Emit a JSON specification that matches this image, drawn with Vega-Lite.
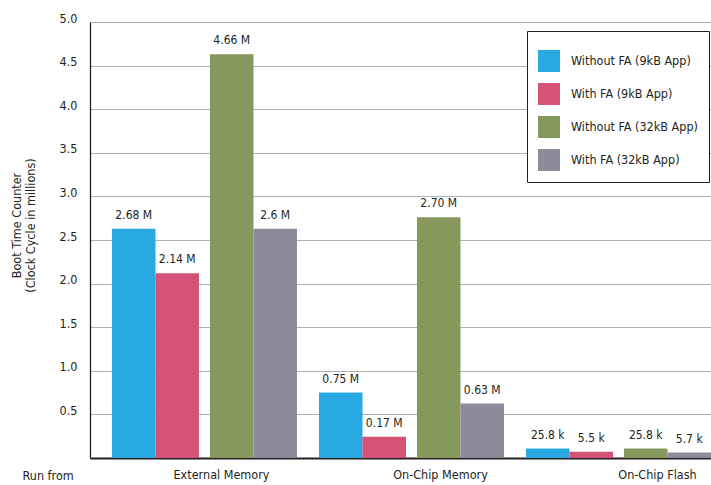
{
  "$schema": "https://vega.github.io/schema/vega-lite/v6.json",
  "width": 621,
  "height": 436,
  "autosize": {"type": "none"},
  "padding": {"left": 90, "top": 22, "right": 0, "bottom": 27},
  "background": "white",
  "config": {
    "view": {"stroke": null},
    "font": "DejaVu Sans Condensed, sans-serif",
    "text": {"font": "DejaVu Sans Condensed, sans-serif"}
  },
  "data": {
    "values": [
      {"group": "External Memory", "series": "Without FA (9kB App)", "app": "9kB", "value": 2.63, "label": "2.68 M"},
      {"group": "External Memory", "series": "With FA (9kB App)", "app": "9kB", "value": 2.12, "label": "2.14 M"},
      {"group": "External Memory", "series": "Without FA (32kB App)", "app": "32kB", "value": 4.63, "label": "4.66 M"},
      {"group": "External Memory", "series": "With FA (32kB App)", "app": "32kB", "value": 2.63, "label": "2.6 M"},
      {"group": "On-Chip Memory", "series": "Without FA (9kB App)", "app": "9kB", "value": 0.75, "label": "0.75 M"},
      {"group": "On-Chip Memory", "series": "With FA (9kB App)", "app": "9kB", "value": 0.245, "label": "0.17 M"},
      {"group": "On-Chip Memory", "series": "Without FA (32kB App)", "app": "32kB", "value": 2.76, "label": "2.70 M"},
      {"group": "On-Chip Memory", "series": "With FA (32kB App)", "app": "32kB", "value": 0.625, "label": "0.63 M"},
      {"group": "On-Chip Flash", "series": "Without FA (9kB App)", "app": "9kB", "value": 0.108, "label": "25.8 k"},
      {"group": "On-Chip Flash", "series": "With FA (9kB App)", "app": "9kB", "value": 0.072, "label": "5.5 k"},
      {"group": "On-Chip Flash", "series": "Without FA (32kB App)", "app": "32kB", "value": 0.108, "label": "25.8 k"},
      {"group": "On-Chip Flash", "series": "With FA (32kB App)", "app": "32kB", "value": 0.062, "label": "5.7 k"}
    ]
  },
  "encoding": {
    "x": {
      "field": "group",
      "type": "nominal",
      "sort": ["External Memory", "On-Chip Memory", "On-Chip Flash"],
      "scale": {"paddingInner": 0.1063, "paddingOuter": 0.0531, "align": 1},
      "axis": {
        "title": "Run from",
        "titleX": -68,
        "titleY": 11,
        "titleAlign": "left",
        "titleBaseline": "top",
        "titleFontSize": 12.5,
        "titleFontWeight": "normal",
        "titleColor": "#231f20",
        "labelAngle": 0,
        "labelFontSize": 12.5,
        "labelColor": "#231f20",
        "labelPadding": 10,
        "labelOffset": {"expr": "datum.label == 'External Memory' ? 17 : datum.label == 'On-Chip Memory' ? 29 : 39"},
        "ticks": false,
        "domainColor": "#231f20",
        "domainWidth": 2,
        "grid": false
      }
    },
    "y": {
      "field": "value",
      "type": "quantitative",
      "scale": {"domain": [0, 5], "nice": false},
      "axis": {
        "title": ["Boot Time Counter", "(Clock Cycle in millions)"],
        "titleX": -74,
        "titleY": 203,
        "titleAngle": -90,
        "titleAlign": "center",
        "titleBaseline": "middle",
        "titleLineHeight": 14,
        "titleFontSize": 12.5,
        "titleFontWeight": "normal",
        "titleColor": "#231f20",
        "values": [0.5, 1, 1.5, 2, 2.5, 3, 3.5, 4, 4.5, 5],
        "format": ".1f",
        "labelFontSize": 12.5,
        "labelColor": "#231f20",
        "labelBaseline": "alphabetic",
        "labelPadding": 13,
        "ticks": false,
        "domainColor": "#231f20",
        "domainWidth": 1.3,
        "gridColor": "#b0b0b0",
        "gridWidth": 1,
        "gridOpacity": 1
      }
    }
  },
  "layer": [
    {
      "transform": [{"filter": "datum.app === '9kB'"}],
      "mark": {"type": "bar", "opacity": 1},
      "encoding": {
        "xOffset": {
          "field": "series",
          "type": "nominal",
          "scale": {"type": "band", "domain": ["Without FA (9kB App)", "With FA (9kB App)", "spacer"], "paddingInner": 0, "paddingOuter": 0.626, "align": 0}
        },
        "color": {
          "field": "series",
          "type": "nominal",
          "scale": {
            "domain": ["Without FA (9kB App)", "With FA (9kB App)", "Without FA (32kB App)", "With FA (32kB App)"],
            "range": ["#29a9e1", "#d55377", "#85995d", "#8f8a9a"]
          },
          "legend": {
            "orient": "none",
            "legendX": 437,
            "legendY": 9,
            "title": " ",
            "titleFontSize": 4,
            "titlePadding": 4,
            "padding": 11,
            "strokeColor": "#231f20",
            "fillColor": "white",
            "symbolType": "square",
            "symbolSize": 484,
            "symbolStrokeWidth": 0,
            "symbolOpacity": 1,
            "rowPadding": 11,
            "labelOffset": 11,
            "labelFontSize": 12.5,
            "labelColor": "#231f20",
            "labelLimit": 300
          }
        }
      }
    },
    {
      "transform": [{"filter": "datum.app === '32kB'"}],
      "mark": {"type": "bar", "opacity": 1},
      "encoding": {
        "xOffset": {
          "field": "series",
          "type": "nominal",
          "scale": {"type": "band", "domain": ["spacer", "Without FA (32kB App)", "With FA (32kB App)"], "paddingInner": 0, "paddingOuter": 0.626, "align": 1}
        },
        "color": {"field": "series", "type": "nominal"}
      }
    },
    {
      "transform": [{"filter": "datum.app === '9kB'"}],
      "mark": {"type": "text", "baseline": "alphabetic", "dy": -10, "fontSize": 12, "color": "#231f20"},
      "encoding": {
        "xOffset": {
          "field": "series",
          "type": "nominal",
          "scale": {"type": "band", "domain": ["Without FA (9kB App)", "With FA (9kB App)", "spacer"], "paddingInner": 0, "paddingOuter": 0.626, "align": 0}
        },
        "text": {"field": "label"}
      }
    },
    {
      "transform": [{"filter": "datum.app === '32kB'"}],
      "mark": {"type": "text", "baseline": "alphabetic", "dy": -10, "fontSize": 12, "color": "#231f20"},
      "encoding": {
        "xOffset": {
          "field": "series",
          "type": "nominal",
          "scale": {"type": "band", "domain": ["spacer", "Without FA (32kB App)", "With FA (32kB App)"], "paddingInner": 0, "paddingOuter": 0.626, "align": 1}
        },
        "text": {"field": "label"}
      }
    }
  ],
  "resolve": {"scale": {"xOffset": "independent"}}
}
